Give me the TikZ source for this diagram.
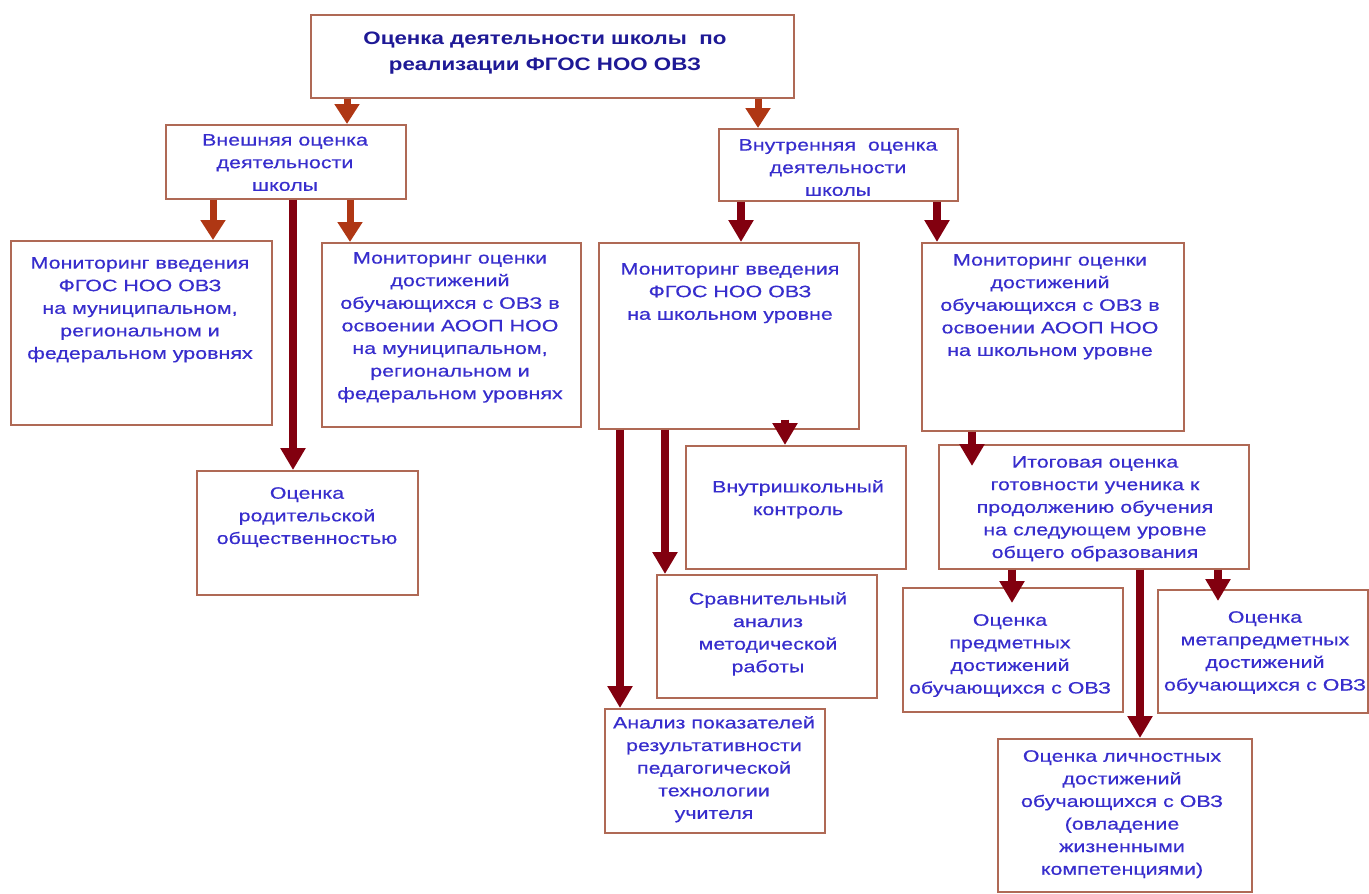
\documentclass[tikz,border=0pt]{standalone}
\usepackage{fontspec}
\setmainfont{Liberation Sans}
\newfontfamily\widefont[FakeStretch=1.3,FakeBold=0.4]{Liberation Sans}
\newfontfamily\wideboldfont[FakeStretch=1.24]{Liberation Sans Bold}
\usetikzlibrary{arrows.meta}
\definecolor{boxc}{RGB}{175,105,85}
\definecolor{txtc}{RGB}{55,45,205}
\definecolor{ttlc}{RGB}{30,25,150}
\definecolor{arrA}{RGB}{175,55,20}
\definecolor{arrB}{RGB}{130,0,15}
\tikzset{
  boxs/.style={draw=boxc, line width=1.6pt, fill=white, inner sep=0pt, anchor=north west},
  lbl/.style={text=txtc, align=center, inner sep=0pt, anchor=north, font=\widefont\fontsize{16.5}{22.6}\selectfont},
  ttl/.style={text=ttlc, align=center, inner sep=0pt, anchor=north, font=\wideboldfont\fontsize{18}{26}\selectfont},
  arra/.style={draw=arrA, line width=7pt, -{Triangle[width=24pt,length=20pt]}},
  arrb/.style={draw=arrB, line width=8pt, -{Triangle[width=24pt,length=22pt]}},
}
\newcommand{\bx}[5]{\node[boxs, minimum width=#4-#2, minimum height=#5-#3] (#1) at (#2,#3) {};}
\begin{document}
\begin{tikzpicture}[x=1pt,y=-1pt]
\useasboundingbox (0,0) rectangle (1369,894);
% boxes
\bx{top}{310}{14}{793}{97}
\bx{ext}{165}{124}{405}{198}
\bx{int}{718}{128}{957}{200}
\bx{a}{10}{240}{271}{424}
\bx{b}{321}{242}{580}{426}
\bx{c}{196}{470}{417}{594}
\bx{d}{598}{242}{858}{428}
\bx{e}{921}{242}{1183}{430}
\bx{f}{685}{445}{905}{568}
\bx{g}{656}{574}{876}{697}
\bx{h}{604}{708}{824}{832}
\bx{i}{938}{444}{1248}{568}
\bx{j}{902}{587}{1122}{711}
\bx{k}{1157}{589}{1367}{712}
\bx{l}{997}{738}{1251}{891}
% texts
\node[ttl] (top-t) at (545,32) {Оценка деятельности школы \ по\\реализации ФГОС НОО ОВЗ};
\node[lbl] (ext-t) at (285,134) {Внешняя оценка\\деятельности\\школы};
\node[lbl] (int-t) at (838,139) {Внутренняя \ оценка\\деятельности\\школы};
\node[lbl] (a-t) at (140,257) {Мониторинг введения\\ФГОС НОО ОВЗ\\на муниципальном,\\региональном и\\федеральном уровнях};
\node[lbl] (b-t) at (450,252) {Мониторинг оценки\\достижений\\обучающихся с ОВЗ в\\освоении АООП НОО\\на муниципальном,\\региональном и\\федеральном уровнях};
\node[lbl] (c-t) at (307,487) {Оценка\\родительской\\общественностью};
\node[lbl] (d-t) at (730,263) {Мониторинг введения\\ФГОС НОО ОВЗ\\на школьном уровне};
\node[lbl] (e-t) at (1050,254) {Мониторинг оценки\\достижений\\обучающихся с ОВЗ в\\освоении АООП НОО\\на школьном уровне};
\node[lbl] (f-t) at (798,480) {Внутришкольный\\контроль};
\node[lbl] (g-t) at (768,592) {Сравнительный\\анализ\\методической\\работы};
\node[lbl] (h-t) at (714,716) {Анализ показателей\\результативности\\педагогической\\технологии\\учителя};
\node[lbl] (i-t) at (1095,456) {Итоговая оценка\\готовности ученика к\\продолжению обучения\\на следующем уровне\\общего образования};
\node[lbl] (j-t) at (1010,614) {Оценка\\предметных\\достижений\\обучающихся с ОВЗ};
\node[lbl] (k-t) at (1265,611) {Оценка\\метапредметных\\достижений\\обучающихся с ОВЗ};
\node[lbl] (l-t) at (1122,750) {Оценка личностных\\достижений\\обучающихся с ОВЗ\\(овладение\\жизненными\\компетенциями)};
% arrows
\draw[arra] (top.south -| 347,0) -- (ext.north -| 347,0);
\draw[arra] (top.south -| 758,0) -- (int.north -| 758,0);
\draw[arra] (ext.south -| 213,0) -- (a.north -| 213,0);
\draw[arra] (ext.south -| 350,0) -- (b.north -| 350,0);
\draw[arrb] (ext.south -| 293,0) -- (c.north -| 293,0);
\draw[arrb] (int.south -| 741,0) -- (d.north -| 741,0);
\draw[arrb] (int.south -| 937,0) -- (e.north -| 937,0);
\draw[arrb] (d.south -| 620,0) -- (h.north -| 620,0);
\draw[arrb] (d.south -| 665,0) -- (g.north -| 665,0);
\draw[arrb] ([yshift=10pt]d.south -| 785,0) -- (f.north -| 785,0);
\draw[arrb] (e.south -| 972,0) -- ([yshift=-22pt]i.north -| 972,0);
\draw[arrb] (i.south -| 1012,0) -- ([yshift=-16pt]j.north -| 1012,0);
\draw[arrb] (i.south -| 1218,0) -- ([yshift=-12pt]k.north -| 1218,0);
\draw[arrb] (i.south -| 1140,0) -- (l.north -| 1140,0);
\end{tikzpicture}
\end{document}
